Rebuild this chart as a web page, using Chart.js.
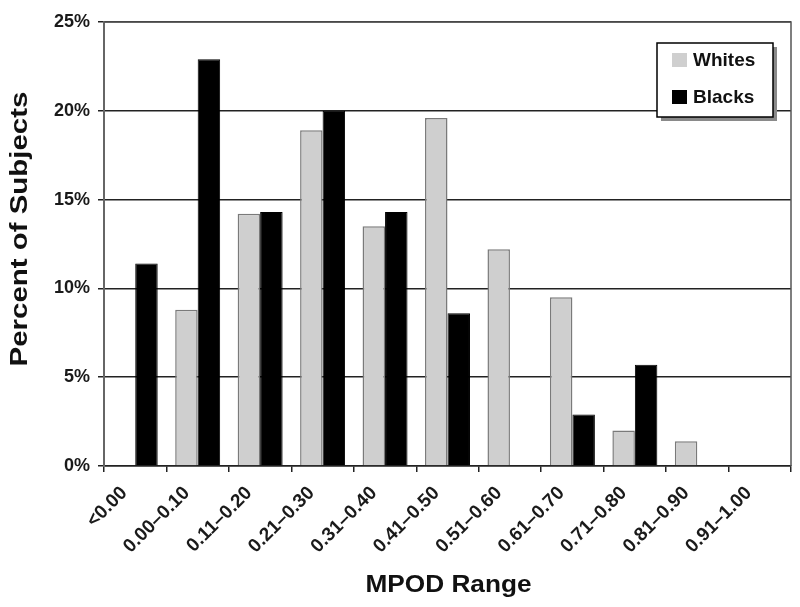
<!DOCTYPE html>
<html>
<head>
<meta charset="utf-8">
<script src="https://cdn.jsdelivr.net/npm/chart.js@4"></script>
<style>
    html, body { margin: 0; padding: 0; background: #fff; }
    #wrap { width: 800px; height: 607px; }
</style>
</head>
<body>
<div id="wrap"><canvas id="myChart" width="800" height="607"></canvas></div>
<script>
const categories = ["<0.00", "0.00–0.10", "0.11–0.20", "0.21–0.30", "0.31–0.40", "0.41–0.50",
    "0.51–0.60", "0.61–0.70", "0.71–0.80", "0.81–0.90", "0.91–1.00"];
const whites = [0, 8.8, 14.2, 18.9, 13.5, 19.6, 12.2, 9.5, 2.0, 1.4, 0];
const blacks = [11.4, 22.9, 14.3, 20.0, 14.3, 8.6, 0, 2.9, 5.7, 0, 0];
const yTicks = [0, 5, 10, 15, 20, 25];
const xTitle = 'MPOD Range';
const yTitle = 'Percent of Subjects';

const fontFamily = "'Liberation Sans', Arial, sans-serif";

// the original's titles are set in a wide bold face, so they are stretched a little
const drawTitle = (ctx, text, x, y, angle, stretch) => {
    ctx.save();
    ctx.translate(x, y);
    ctx.rotate(angle);
    ctx.scale(stretch, 1);
    ctx.font = "bold 23px " + fontFamily;
    ctx.fillStyle = '#111';
    ctx.textAlign = 'center';
    ctx.textBaseline = 'alphabetic';
    ctx.fillText(text, 0, 0);
    ctx.restore();
};

// box round the plot, the axis titles, and the legend with its shadow
const frameAndLegend = {
    id: 'frameAndLegend',
    afterDatasetsDraw(chart) {
        const ctx = chart.ctx;
        const a = chart.chartArea;
        ctx.save();
        ctx.strokeStyle = '#555';
        ctx.lineWidth = 1.5;
        ctx.beginPath();
        ctx.moveTo(a.left, a.top);
        ctx.lineTo(a.right, a.top);
        ctx.lineTo(a.right, a.bottom);
        ctx.stroke();

        drawTitle(ctx, xTitle, (a.left + a.right) / 2 + 1, 592, 0, 1.14);
        drawTitle(ctx, yTitle, 27, 229, -Math.PI / 2, 1.28);

        let x = 657, y = 43, w = 116, h = 74;
        ctx.fillStyle = '#8a8a8a';
        ctx.fillRect(x + 4, y + 4, w, h);
        ctx.fillStyle = '#fff';
        ctx.fillRect(x, y, w, h);
        ctx.strokeStyle = '#000';
        ctx.lineWidth = 1.5;
        ctx.strokeRect(x, y, w, h);

        ctx.font = "bold 19px " + fontFamily;
        ctx.textBaseline = 'middle';
        chart.data.datasets.forEach((ds, i) => {
            let cy = y + 17 + i * 37;
            ctx.fillStyle = ds.backgroundColor;
            ctx.fillRect(x + 15, cy - 7, 15, 14);
            ctx.fillStyle = '#111';
            ctx.fillText(ds.label, x + 36, cy + 1);
        });
        ctx.restore();
    }
};

let data = {
    labels: categories,
    datasets: [{
        label: 'Whites',
        backgroundColor: '#cfcfcf',
        borderColor: '#7a7a7a',
        borderWidth: 1.5,
        data: whites,
    }, {
        label: 'Blacks',
        backgroundColor: '#000000',
        borderColor: '#000000',
        borderWidth: 1,
        data: blacks,
    }]
};

const config = {
    type: 'bar',
    data: data,
    options: {
        responsive: false,
        animation: false,
        layout: { padding: { top: 22, right: 9, left: 0, bottom: 0 } },
        datasets: { bar: { categoryPercentage: 0.72, barPercentage: 1.0 } },
        plugins: {
            legend: { display: false },
            tooltip: { enabled: false }
        },
        scales: {
            x: {
                grid: { offset: true, drawOnChartArea: false, color: '#222', lineWidth: 1.5, tickLength: 6 },
                border: { color: '#222', width: 1.5 },
                ticks: {
                    color: '#1a1a1a',
                    minRotation: 45,
                    maxRotation: 45,
                    padding: 10,
                    labelOffset: -11,
                    font: { family: fontFamily, size: 19, weight: 'bold' }
                },
                afterFit: (scale) => { scale.height = 141; }
            },
            y: {
                min: 0,
                max: 25,
                afterBuildTicks: (scale) => { scale.ticks = yTicks.map(v => ({ value: v })); },
                grid: { color: '#222', lineWidth: 1.5, tickLength: 6 },
                border: { color: '#666', width: 2 },
                ticks: {
                    color: '#1a1a1a',
                    padding: 8,
                    callback: (v) => v + '%',
                    font: { family: fontFamily, size: 18, weight: 'bold' }
                },
                afterFit: (scale) => { scale.width = 104; }
            }
        }
    },
    plugins: [frameAndLegend]
};

var myChart = new Chart(
    document.getElementById('myChart'),
    config
);
</script>
</body>
</html>
